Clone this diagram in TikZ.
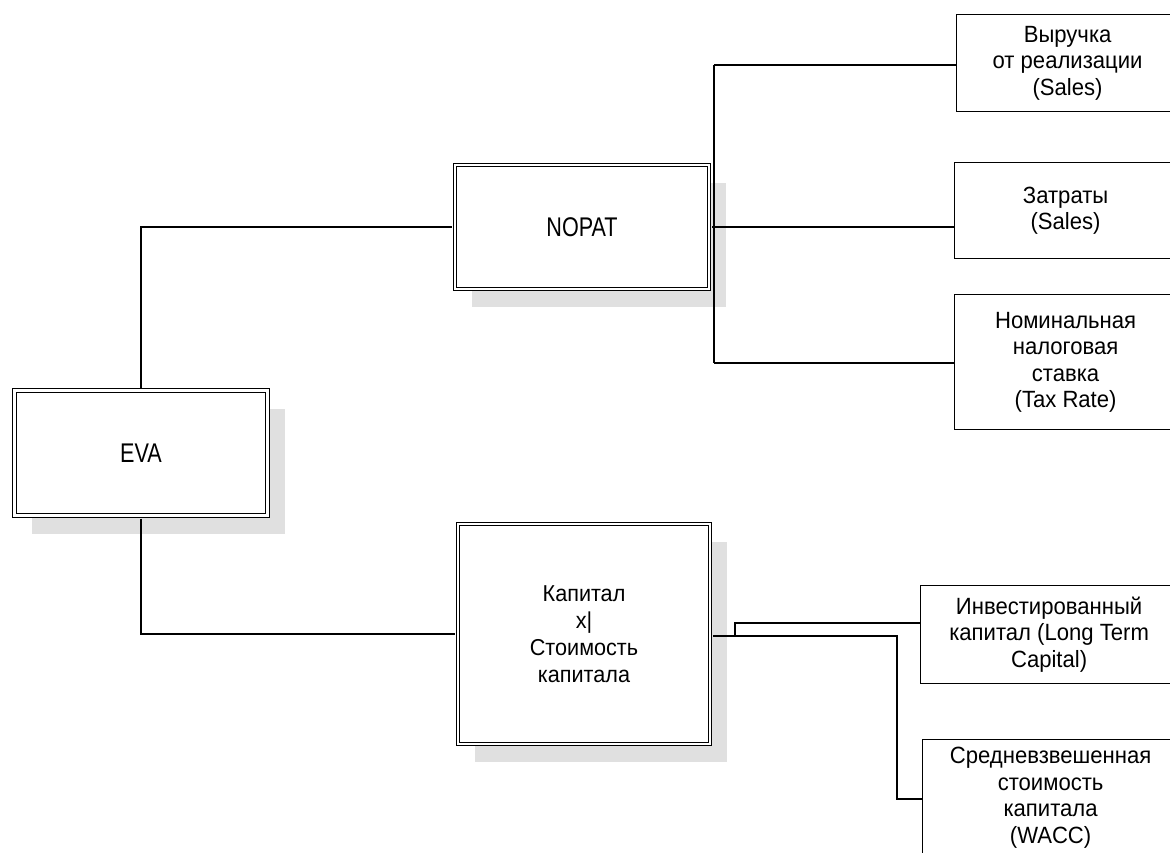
\documentclass[tikz,border=0pt]{standalone}
\usepackage{fontspec}
\setmainfont[FakeStretch=0.94]{Liberation Sans}
\newfontfamily\narrowfont[FakeStretch=0.8]{Liberation Sans}
\usetikzlibrary{positioning, shadows}
\tikzset{
  mainbox/.style={draw, double, double distance=2.5pt, line width=1pt, outer sep=3pt,
    fill=white, align=center,
    drop shadow={shadow xshift=17pt, shadow yshift=-18pt, fill=black!12, opacity=1}},
  bigtext/.style={font=\narrowfont\fontsize{27}{31}\selectfont},
  leafbox/.style={draw, line width=1.2pt, fill=white, align=center, anchor=north west,
    inner sep=0pt, font=\fontsize{23.5}{26.5}\selectfont},
  link/.style={line width=1.2pt}
}

\begin{document}
\begin{tikzpicture}[x=1pt, y=1pt]

\useasboundingbox (0,0) rectangle (1170,-853);
\fill[white] (0,0) rectangle (1170,-853);

% Main boxes
\node[mainbox, bigtext, minimum width=253pt, minimum height=125pt] (eva) at (141,-453) {EVA};
\node[mainbox, bigtext, minimum width=254pt, minimum height=124pt] (nopat) at (582,-227) {NOPAT};
\node[mainbox, font=\fontsize{23}{27}\selectfont, minimum width=252pt, minimum height=220pt]
  (cap) at (584,-634) {Капитал\\x|\\Стоимость\\капитала};

% NOPAT factors
\node[leafbox, minimum width=222pt, minimum height=97pt] (vyr) at (956,-14) {Выручка\\от реализации\\(Sales)};
\node[leafbox, minimum width=222pt, minimum height=96pt] (zat) at (954,-162) {Затраты\\(Sales)};
\node[leafbox, minimum width=222pt, minimum height=135pt] (nom) at (954,-294) {Номинальная\\налоговая\\ставка\\(Tax Rate)};

% Capital factors
\node[leafbox, minimum width=257pt, minimum height=98pt] (inv) at (920,-585) {Инвестированный\\капитал (Long Term\\Capital)};
\node[leafbox, minimum width=256pt, minimum height=116pt] (wacc) at (922,-739) {Средневзвешенная\\стоимость\\капитала\\(WACC)};

% EVA branches
\draw[link] (eva.north) |- (nopat.west);
\draw[link] (eva.south) |- (cap.west);

% NOPAT fork
\coordinate (nt) at (714,-65);
\coordinate (nb) at (714,-363);
\draw[link] (nt) -- (nb);
\draw[link] (nt) -- (vyr.west |- nt);
\draw[link] (nopat.east) -- (zat.west |- nopat.east);
\draw[link] (nb) -- (nom.west |- nb);

% Capital fork
\coordinate (cj) at (735,-636);
\coordinate (cu) at (735,-623);
\coordinate (cd) at (897,-636);
\coordinate (cw) at (897,-799);
\draw[link] (cap.east |- cd) -- (cd) -- (cw) -- (wacc.west |- cw);
\draw[link] (cj) -- (cu) -- (inv.west |- cu);

\end{tikzpicture}
\end{document}
